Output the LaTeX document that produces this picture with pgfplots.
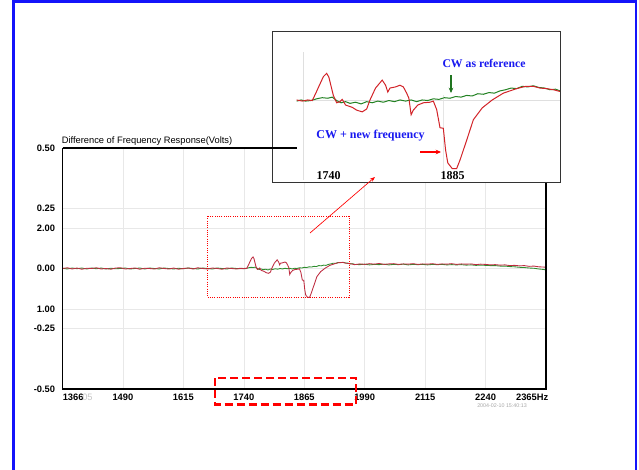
\documentclass[border=0pt]{standalone}
\usepackage{pgfplots}
\pgfplotsset{compat=1.18}
\usepackage{pgfplotstable}
\usepackage{fontspec}
\setmainfont{Liberation Sans}
\newfontfamily\seriffont{Liberation Serif}
\usetikzlibrary{arrows.meta}
\definecolor{mred}{RGB}{190,45,65}
\definecolor{mgreen}{RGB}{45,140,45}
\definecolor{ired}{RGB}{210,35,40}
\definecolor{igreen}{RGB}{35,130,35}
\definecolor{fblue}{RGB}{20,20,250}
\definecolor{tblue}{RGB}{25,25,240}

\pgfplotstableread{
f v
1365 0.000
1375 0.003
1385 -0.002
1395 0.002
1405 -0.003
1415 0.001
1425 0.000
1435 0.003
1445 -0.002
1455 0.000
1465 -0.003
1475 0.002
1485 0.003
1495 -0.002
1505 0.000
1515 0.002
1525 -0.003
1535 0.001
1545 0.000
1555 -0.002
1565 0.003
1575 0.000
1585 -0.002
1595 0.002
1605 -0.003
1615 0.000
1625 0.002
1635 -0.002
1645 0.003
1655 0.000
1665 -0.002
1675 0.002
1685 0.000
1695 -0.003
1705 0.002
1715 0.000
1725 -0.002
1732 0.001
1737 -0.001
1742 0.001
1746 0.000
1749 0.012
1752 0.025
1756 0.042
1759 0.048
1761 0.041
1765 0.009
1768 -0.004
1771 -0.002
1773 0.002
1776 -0.008
1782 -0.012
1786 -0.017
1791 -0.020
1795 -0.015
1798 0.001
1803 0.022
1809 0.036
1812 0.027
1814 0.015
1816 0.022
1821 0.024
1825 0.027
1828 0.024
1831 0.013
1833 0.004
1835 -0.025
1837 -0.017
1841 -0.008
1846 -0.004
1852 -0.003
1855 -0.001
1858 -0.016
1861 -0.048
1864 -0.049
1866 -0.087
1868 -0.110
1872 -0.120
1876 -0.120
1879 -0.105
1885 -0.070
1891 -0.034
1899 -0.013
1908 0.001
1918 0.013
1930 0.021
1938 0.025
1945 0.025
1951 0.022
1957 0.021
1963 0.019
1969 0.016
1980 0.019
1990 0.017
2000 0.020
2010 0.018
2020 0.021
2030 0.017
2040 0.019
2050 0.020
2060 0.017
2070 0.019
2080 0.018
2090 0.020
2100 0.017
2110 0.019
2120 0.018
2130 0.020
2140 0.017
2150 0.019
2160 0.018
2170 0.020
2180 0.017
2190 0.019
2200 0.018
2210 0.019
2220 0.016
2230 0.018
2240 0.017
2250 0.015
2260 0.016
2270 0.014
2280 0.015
2290 0.012
2300 0.013
2310 0.011
2320 0.012
2330 0.009
2340 0.010
2350 0.007
2360 0.006
2365 0.005
}\redtab

\pgfplotstableread{
f v
1365 0.001
1375 -0.002
1385 0.002
1395 -0.001
1405 0.002
1415 -0.002
1425 0.002
1435 -0.001
1445 0.002
1455 -0.002
1465 0.001
1475 -0.001
1485 0.000
1495 0.002
1505 -0.002
1515 0.000
1525 0.002
1535 -0.002
1545 0.002
1555 0.000
1565 -0.002
1575 0.002
1585 0.000
1595 -0.002
1605 0.001
1615 -0.001
1625 0.002
1635 0.000
1645 -0.002
1655 0.002
1665 0.000
1675 -0.002
1685 0.002
1695 0.000
1705 -0.002
1715 0.002
1725 0.000
1732 -0.001
1736 0.001
1740 -0.001
1745 0.000
1750 0.003
1755 0.005
1760 0.004
1764 0.006
1768 0.000
1772 -0.004
1776 -0.002
1780 -0.005
1785 -0.003
1790 -0.006
1795 -0.002
1800 -0.004
1805 -0.001
1810 -0.003
1815 0.000
1820 -0.002
1825 0.001
1830 -0.001
1835 0.001
1840 -0.002
1845 0.001
1850 0.000
1855 0.003
1860 0.002
1865 0.005
1870 0.004
1875 0.007
1880 0.006
1885 0.009
1890 0.008
1895 0.012
1900 0.011
1905 0.014
1910 0.013
1915 0.017
1920 0.019
1925 0.022
1930 0.021
1935 0.025
1940 0.024
1945 0.026
1950 0.023
1955 0.022
1960 0.019
1965 0.020
1969 0.017
1980 0.016
1990 0.018
2000 0.015
2010 0.017
2020 0.016
2030 0.018
2040 0.015
2050 0.017
2060 0.016
2070 0.018
2080 0.015
2090 0.017
2100 0.016
2110 0.017
2120 0.015
2130 0.017
2140 0.016
2150 0.017
2160 0.015
2170 0.016
2180 0.015
2190 0.016
2200 0.014
2210 0.015
2220 0.013
2230 0.014
2240 0.013
2250 0.012
2260 0.012
2270 0.010
2280 0.010
2290 0.008
2300 0.007
2310 0.005
2320 0.004
2330 0.002
2340 0.001
2350 -0.002
2360 -0.004
2365 -0.006
}\greentab

\begin{document}
\begin{tikzpicture}
\useasboundingbox (0,0) rectangle (479.25pt,351.75pt);
% main axis
\begin{axis}[
  at={(46.875pt,60pt)}, anchor=south west,
  scale only axis, width=362.625pt, height=180.75pt,
  xmin=1365, xmax=2365, ymin=-0.5, ymax=0.5,
  axis line style={draw=none},
  major tick length=0pt,
  xtick={1365,1490,1615,1740,1865,1990,2115,2240,2365},
  xticklabels={,1490,1615,1740,1865,1990,2115,2240,},
  ytick={-0.5,-0.25,-0.168,0,0.168,0.25,0.5},
  yticklabels={-0.50,-0.25,1.00,0.00,2.00,0.25,0.50},
  grid=major,
  major grid style={gray!18, line width=0.4pt},
  xticklabel style={font=\fontsize{7}{8}\selectfont\bfseries, inner sep=0pt, yshift=-3.6pt},
  yticklabel style={font=\fontsize{7}{8}\selectfont\bfseries, inner sep=0pt, xshift=-5.4pt},
]
\addplot[mgreen, line width=0.65pt] table[x=f,y=v] {\greentab};
\addplot[mred, line width=0.65pt] table[x=f,y=v] {\redtab};
\end{axis}

\begin{scope}[x=0.75pt,y=-0.75pt,yshift=351.75pt]
% blue frame
\draw[fblue, line width=1.6pt] (13.5,520) -- (13.5,1.5) -- (636,1.5) -- (636,520);
% spines
\draw[black, line width=1pt] (62.5,148) -- (62.5,389) -- (546,389) -- (546,181);
% title
\node[anchor=west, inner sep=0pt, font=\fontsize{7}{8}\selectfont] at (61.5,141) {Difference of Frequency Response(Volts)};
% first/last x labels
\node[anchor=north west, inner sep=0pt, font=\fontsize{7}{8}\selectfont\bfseries] at (62.5,394) {1366};
\node[anchor=north west, inner sep=0pt, font=\fontsize{7}{8}\selectfont, text=gray!45] at (82,394) {05};
\node[anchor=north east, inner sep=0pt, font=\fontsize{7}{8}\selectfont\bfseries] at (548.5,394) {2365Hz};
\node[anchor=north west, inner sep=0pt, font=\fontsize{4}{5}\selectfont, text=gray!70] at (477,403.5) {2004-02-10 15:40:13};
% dotted box
\draw[red, line width=0.7pt, densely dotted] (207,216) rectangle (349,297);
% dashed box
\draw[red, line width=1.6pt, dash pattern=on 6pt off 3pt] (215,378) rectangle (356,404.5);
% inset box
\draw[black!80, line width=0.6pt, fill=white] (272,31) rectangle (560,182);
\draw[gray!25, line width=0.5pt] (303,52) -- (303,180);
\draw[gray!20, line width=0.5pt] (443,95) -- (443,180);
\draw[gray!25, line width=0.5pt] (297,100.7) -- (560,100.7);
\end{scope}

% inset axis
\begin{axis}[
  at={(204pt,215.25pt)}, anchor=south west,
  scale only axis, width=216pt, height=113.25pt,
  xmin=1709.8, xmax=1969, ymin=-0.1437, ymax=0.1226,
  hide axis,
]
\addplot[igreen, line width=0.75pt, restrict x to domain=1732:1969] table[x=f,y=v] {\greentab};
\addplot[ired, line width=0.75pt, restrict x to domain=1732:1969] table[x=f,y=v] {\redtab};
\end{axis}

\begin{scope}[x=0.75pt,y=-0.75pt,yshift=351.75pt]
\draw[black, line width=1pt] (62.5,148) -- (297,148);
% arrow to inset
\draw[red, line width=0.5pt, -{Stealth[length=4pt,width=3pt]}] (310,233) -- (375,177);
\node[inner sep=0pt, text=tblue, font=\seriffont\bfseries\fontsize{8.8}{10}\selectfont] at (484,63) {CW as reference};
\node[inner sep=0pt, text=tblue, font=\seriffont\bfseries\fontsize{9}{10}\selectfont] at (370.5,136) {CW + new frequency};
\node[inner sep=0pt, font=\seriffont\bfseries\fontsize{9}{10}\selectfont] at (328.5,176) {1740};
\node[inner sep=0pt, font=\seriffont\bfseries\fontsize{9}{10}\selectfont] at (452.5,176) {1885};
\draw[igreen!90!black, line width=1pt, -{Stealth[length=4pt,width=3.5pt]}] (451,75) -- (451,93);
\draw[red, line width=1.2pt, -{Stealth[length=4pt,width=3.5pt]}] (420,152) -- (441,152);
\end{scope}
\end{tikzpicture}
\end{document}
